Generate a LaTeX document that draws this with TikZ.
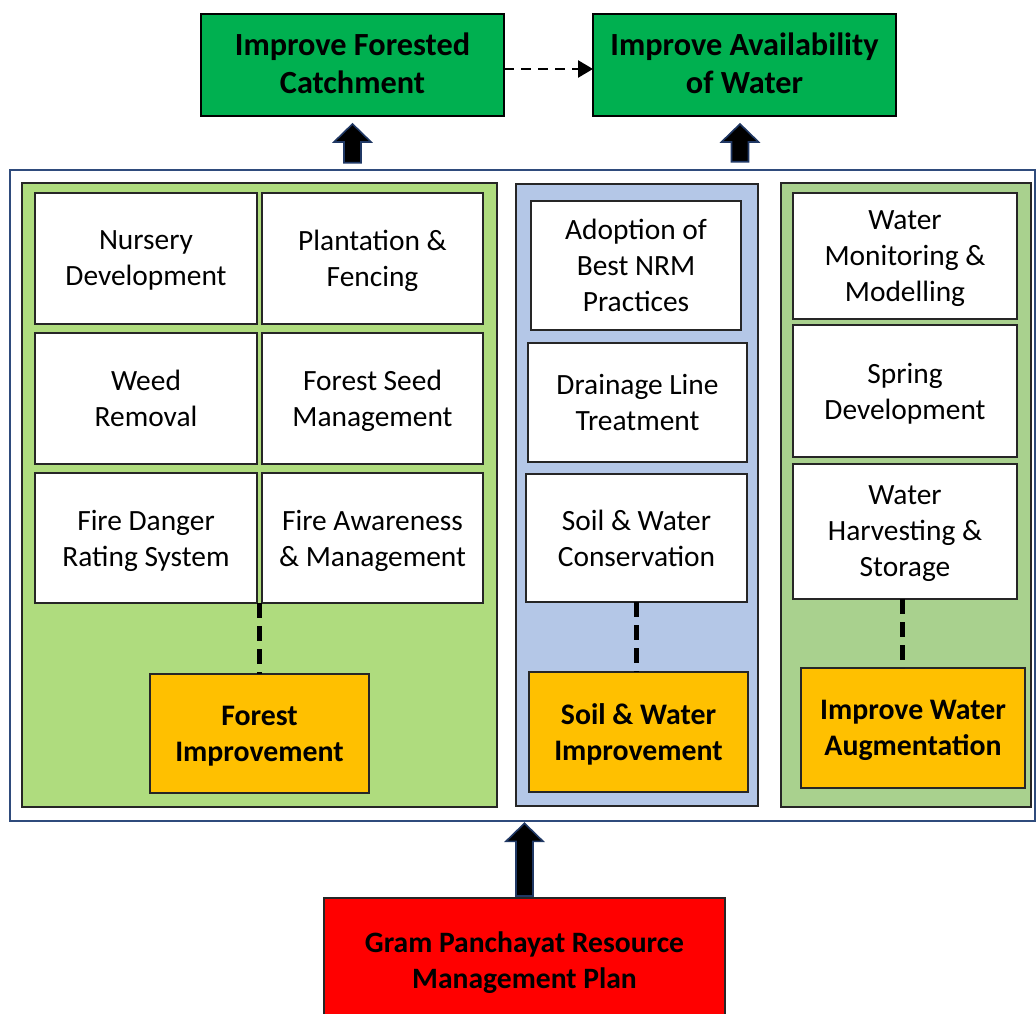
\documentclass[tikz,border=0pt]{standalone}
\usepackage{fontspec}
\setmainfont{Carlito}
\usetikzlibrary{arrows.meta,calc}

\definecolor{goalgreen}{HTML}{00B050}
\definecolor{amber}{HTML}{FFC000}
\definecolor{planred}{HTML}{FF0000}
\definecolor{forestpanel}{HTML}{AFDC7E}
\definecolor{soilpanel}{HTML}{B4C7E7}
\definecolor{waterpanel}{HTML}{A9D18E}
\definecolor{framenavy}{HTML}{2F4B7C}
\definecolor{arrowedge}{HTML}{203864}
\definecolor{edgegray}{HTML}{262626}

% upward block arrow: #1 = tip point, #2 = base point
\newcommand\liftarrow[2]{%
  \draw[blockarrow] (#1) -- ($(#1)+(18.5,18)$) -- ($(#1)+(8.5,18)$)
    -- ($(#2)+(8.5,0)$) -- ($(#2)+(-8.5,0)$) -- ($(#1)+(-8.5,18)$)
    -- ($(#1)+(-18.5,18)$) -- cycle;}

\begin{document}
\begin{tikzpicture}[x=1pt,y=-1pt,
  txt/.style={align=center,inner sep=0pt,outer sep=0pt,
    font=\fontsize{29.4}{36}\selectfont,text depth=-6.5pt},
  cell/.style={txt,draw=edgegray,line width=1.4pt,fill=white},
  goal/.style={txt,draw=black,line width=2pt,fill=goalgreen,
    font=\fontsize{32.3}{38}\selectfont\bfseries,text depth=3pt,
    minimum width=303,minimum height=102},
  theme/.style={txt,draw=edgegray,line width=1.4pt,fill=amber,
    font=\fontsize{29.8}{36}\selectfont\bfseries,text depth=-4.5pt},
  plan/.style={txt,draw=edgegray,line width=1.4pt,fill=planred,
    font=\fontsize{29.6}{36}\selectfont\bfseries,text depth=-1.2pt},
  panel/.style={draw=edgegray,line width=1.2pt},
  blockarrow/.style={fill=black,draw=arrowedge,line width=1.6pt,line join=miter},
  tether/.style={line width=5pt,dash pattern=on 15pt off 8pt,black},
  flowlink/.style={line width=2.5pt,dash pattern=on 10pt off 7pt,
    -{Triangle[length=15pt,width=17pt]}}]

\useasboundingbox (0,0) rectangle (1036,1014);
\clip (0,0) rectangle (1036,1014);
\fill[white] (0,0) rectangle (1036,1014);

% goals at the top
\node[goal] (ifc) at (352.5,65) {Improve Forested\\Catchment};
\node[goal] (iaw) at (744.5,65) {Improve Availability\\of Water};
\draw[flowlink] ($(ifc.east)+(0,4)$) -- ($(iaw.west)+(0,4)$);

% outer frame holding the three themes
\node[draw=framenavy,line width=2.6pt,minimum width=1025,minimum height=651,
  inner sep=0pt] (frame) at (522.5,495.5) {};

% theme panels
\draw[panel,fill=forestpanel] (22,183) rectangle (497,807);
\draw[panel,fill=soilpanel] (516,184) rectangle (758,806);
\draw[panel,fill=waterpanel] (781,183) rectangle (1031,807);

% forest activities
\node[cell,minimum width=222,minimum height=131] (nur) at (146,258.5) {Nursery\\Development};
\node[cell,minimum width=221,minimum height=131] (pla) at (372.5,258.5) {Plantation \&\\Fencing};
\node[cell,minimum width=222,minimum height=131] (wee) at (146,398.5) {Weed\\Removal};
\node[cell,minimum width=221,minimum height=131] (fsm) at (372.5,398.5) {Forest Seed\\Management};
\node[cell,minimum width=222,minimum height=130] (fdr) at (146,538) {Fire Danger\\Rating System};
\node[cell,minimum width=221,minimum height=130] (fam) at (372.5,538) {Fire Awareness\\\& Management};

% soil and water activities
\node[cell,minimum width=210,minimum height=129] (anp) at (636,265.5) {Adoption of\\Best NRM\\Practices};
\node[cell,minimum width=219,minimum height=119] (dlt) at (637.5,402.5) {Drainage Line\\Treatment};
\node[cell,minimum width=221,minimum height=128] (swc) at (636.5,538) {Soil \& Water\\Conservation};

% water augmentation activities
\node[cell,minimum width=224,minimum height=126] (wmm) at (905,256) {Water\\Monitoring \&\\Modelling};
\node[cell,minimum width=224,minimum height=132] (spd) at (905,391) {Spring\\Development};
\node[cell,minimum width=224,minimum height=135] (whs) at (905,531.5) {Water\\Harvesting \&\\Storage};

% theme labels
\node[theme,minimum width=219,minimum height=119] (fi) at (259.5,733.5) {Forest\\Improvement};
\node[theme,minimum width=219,minimum height=120] (swi) at (638.5,732) {Soil \& Water\\Improvement};
\node[theme,minimum width=224,minimum height=120] (iwa) at (913,728) {Improve Water\\Augmentation};

% dashed ties from activity groups to theme labels
\coordinate (fgrid) at ($(fdr.south east)!0.5!(fam.south west)$);
\draw[tether] (fgrid) -- (fgrid |- fi.north);
\draw[tether] (swc.south) -- (swc.south |- swi.north);
\draw[tether] ($(whs.south)+(-3,0)$) -- ($(whs.south |- iwa.north)+(-3,0)$);

% plan at the bottom
\node[plan,minimum width=401,minimum height=124] (gp) at (524.5,960)
  {Gram Panchayat Resource\\Management Plan};

% block arrows
\coordinate (tipA) at ($(ifc.south)+(0,8)$);
\coordinate (baseA) at ($(ifc.south |- frame.north)+(0,-6)$);
\liftarrow{tipA}{baseA}
\coordinate (tipB) at ($(iaw.south)+(-4.5,8)$);
\coordinate (baseB) at ($(iaw.south |- frame.north)+(-4.5,-7)$);
\liftarrow{tipB}{baseB}
\coordinate (tipC) at ($(gp.north |- frame.south)+(0,1)$);
\coordinate (baseC) at ($(gp.north)+(0,-2)$);
\liftarrow{tipC}{baseC}

\end{tikzpicture}
\end{document}
